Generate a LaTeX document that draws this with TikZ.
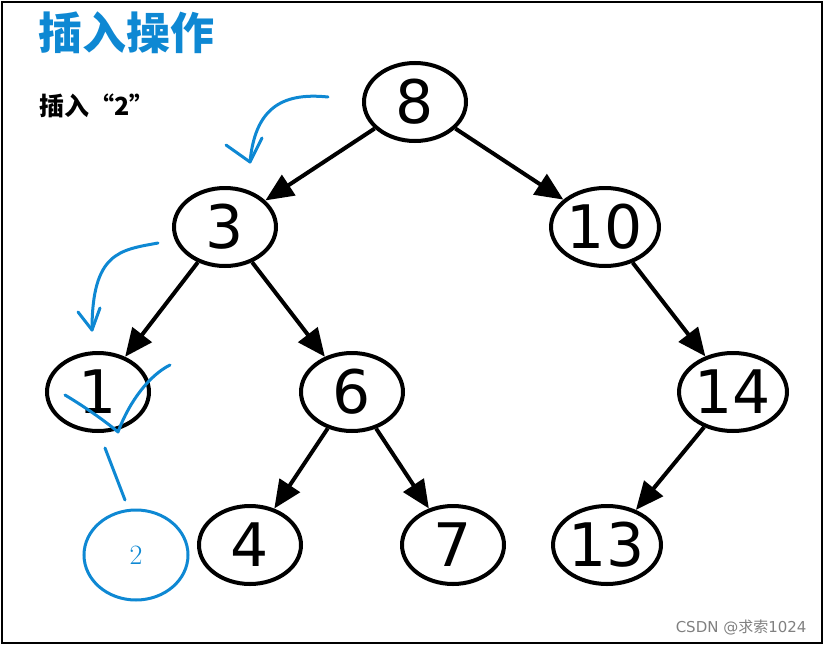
\documentclass[tikz,border=0pt]{standalone}
\usepackage{fontspec}
\setsansfont{DejaVu Sans}
\newfontfamily\cjk{Noto Sans CJK SC}
\usetikzlibrary{arrows.meta,shapes.geometric}
\begin{document}
\begin{tikzpicture}[x=1pt,y=-1pt,
 nd/.style={draw,line width=4pt,ellipse,minimum width=102pt,minimum height=78pt,inner sep=0pt,font=\sffamily\fontsize{60}{60}\selectfont},
 ar/.style={line width=4pt,-{Triangle[length=28pt,width=24pt]}},
 bl/.style={draw=cyan!70!blue,line width=3pt,line cap=round,line join=round}]
\useasboundingbox (0,0) rectangle (824,645);
\draw[line width=2pt] (2,2) rectangle (822,643);
\node[nd] (n8) at (415,102) {8};
\node[nd] (n3) at (225,227) {3};
\node[nd] (n10) at (605,227) {10};
\node[nd] (n1) at (98,392) {1};
\node[nd] (n6) at (352,392) {6};
\node[nd] (n14) at (733,392) {14};
\node[nd] (n4) at (250,545) {4};
\node[nd] (n7) at (453,545) {7};
\node[nd] (n13) at (607,545) {13};
\draw[ar] (n8) -- (n3); \draw[ar] (n8) -- (n10);
\draw[ar] (n3) -- (n1); \draw[ar] (n3) -- (n6);
\draw[ar] (n10) -- (n14);
\draw[ar] (n6) -- (n4); \draw[ar] (n6) -- (n7);
\draw[ar] (n14) -- (n13);
\node[draw=cyan!70!blue,line width=3pt,ellipse,minimum width=104pt,minimum height=90pt,text=cyan!70!blue,font=\fontsize{28}{28}\selectfont] (n2) at (136,555) {2};
\coordinate (c1) at (105,448); \coordinate (c2) at (125,500);
\draw[bl] (c1) -- (c2);
\node[text=cyan!70!blue,font=\cjk\bfseries\fontsize{44}{44}\selectfont] (t) at (126,33) {插入操作};
\node[font=\cjk\bfseries\fontsize{25}{25}\selectfont] (s) at (97,106) {插入“2”};
\draw[bl] (328,97) .. controls (280,92) and (255,110) .. (250,162);
\draw[bl] (226,145) -- (250,162) -- (262,138);
\draw[bl] (158,243) .. controls (120,250) and (92,252) .. (92,330);
\draw[bl] (78,312) -- (92,330) -- (100,308);
\draw[bl] (65,395) .. controls (90,410) and (110,425) .. (118,432) .. controls (130,400) and (150,375) .. (170,365);
\node[text=gray,font=\sffamily\fontsize{15}{15}\selectfont,anchor=east] (w) at (810,627) {CSDN @{\cjk 求索}1024};
\end{tikzpicture}
\end{document}
